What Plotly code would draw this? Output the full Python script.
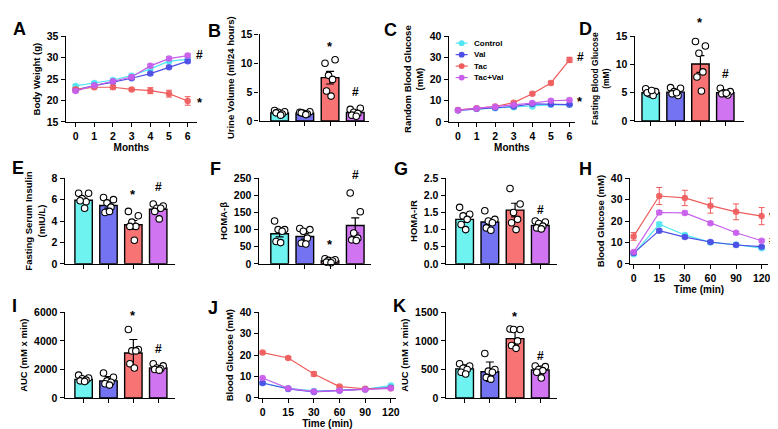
import plotly.graph_objects as go

W, H = 778, 429
FONT = "Liberation Sans, Arial, sans-serif"

GROUPS = ["Control", "Val", "Tac", "Tac+Val"]
BAR_COLORS = ["#6EF3F0", "#7474F2", "#F87474", "#D074F2"]
LINE_COLORS = ["#52E6F0", "#4E4EE6", "#EE5C5C", "#C85EEB"]

MONTHS = [0, 1, 2, 3, 4, 5, 6]
TIME_LABELS = ["0", "15", "30", "60", "90", "120"]

# A - body weight (g)
bw_mean = {
    "Control": [23.4, 24.1, 24.8, 25.8, 27.4, 29.2, 29.6],
    "Val": [22.5, 23.5, 24.3, 25.2, 26.3, 27.8, 29.2],
    "Tac": [22.6, 23.1, 23.1, 22.6, 22.3, 21.6, 19.9],
    "Tac+Val": [22.2, 23.5, 24.5, 25.5, 28.1, 29.8, 30.5],
}
bw_err = {
    "Control": [0.3, 0.3, 0.3, 0.3, 0.3, 0.4, 0.4],
    "Val": [0.3, 0.3, 0.3, 0.3, 0.3, 0.3, 0.4],
    "Tac": [0.4, 0.4, 0.4, 0.3, 0.7, 0.8, 1.0],
    "Tac+Val": [0.3, 0.3, 0.3, 0.3, 0.4, 0.4, 0.4],
}

# B - urine volume
urine_mean = [1.4, 1.35, 7.5, 1.45]
urine_err = [0.12, 0.1, 1.1, 0.22]
urine_pts = [
    [1.8, 1.6, 1.5, 1.2, 1.4, 1.0],
    [1.5, 1.6, 1.3, 1.2, 1.4, 1.1],
    [10.0, 10.6, 7.9, 7.2, 5.2, 4.3],
    [2.0, 2.2, 1.5, 1.3, 1.0, 0.8],
]

# C - random blood glucose
rbg_mean = {
    "Control": [5.5, 6.0, 6.4, 6.8, 7.2, 8.0, 8.0],
    "Val": [5.4, 6.1, 6.6, 7.2, 8.4, 8.2, 8.1],
    "Tac": [5.6, 6.4, 7.2, 9.0, 13.2, 18.2, 29.0],
    "Tac+Val": [5.5, 6.3, 7.0, 8.0, 8.8, 9.9, 10.2],
}
rbg_err = {
    "Control": [0.3, 0.3, 0.3, 0.3, 0.3, 0.3, 0.3],
    "Val": [0.3, 0.3, 0.3, 0.3, 0.4, 0.3, 0.3],
    "Tac": [0.3, 0.3, 0.4, 0.5, 0.6, 0.8, 1.2],
    "Tac+Val": [0.3, 0.3, 0.3, 0.3, 0.4, 0.4, 0.4],
}

# D - fasting blood glucose
fbg_mean = [5.0, 5.1, 10.1, 5.0]
fbg_err = [0.2, 0.2, 1.5, 0.2]
fbg_pts = [
    [5.7, 5.2, 4.8, 4.5, 5.0, 5.4],
    [5.9, 5.8, 5.2, 4.5, 4.8, 5.0],
    [14.1, 13.3, 12.0, 8.7, 7.8, 5.3],
    [5.8, 5.2, 5.0, 4.6, 4.8, 4.9],
]

# E - fasting serum insulin
ins_mean = [5.95, 5.45, 3.65, 5.1]
ins_err = [0.2, 0.25, 0.4, 0.2]
ins_pts = [
    [6.6, 6.6, 6.1, 5.8, 5.9, 5.2],
    [6.2, 6.0, 5.7, 5.3, 4.8, 4.9],
    [4.9, 4.5, 3.9, 3.5, 3.5, 2.2],
    [5.6, 5.4, 5.2, 5.2, 4.9, 4.2],
]

# F - HOMA-beta
hb_mean = [88, 80, 8, 112]
hb_err = [9, 8, 2, 22]
hb_pts = [
    [125, 100, 100, 95, 65, 62],
    [103, 100, 95, 75, 60, 58],
    [15, 12, 10, 8, 5, 3],
    [207, 152, 90, 75, 70, 68],
]

# G - HOMA-IR
hir_mean = [1.3, 1.22, 1.57, 1.12]
hir_err = [0.09, 0.08, 0.2, 0.04]
hir_pts = [
    [1.65, 1.45, 1.4, 1.3, 1.15, 1.0],
    [1.55, 1.3, 1.25, 1.2, 1.05, 0.98],
    [2.2, 1.75, 1.5, 1.3, 1.2, 1.0],
    [1.25, 1.22, 1.18, 1.1, 1.05, 1.02],
]

# H - OGTT
ogtt_mean = {
    "Control": [4.5, 18.5, 13.5, 10.0, 9.0, 7.3],
    "Val": [5.0, 15.5, 12.5, 10.2, 8.8, 8.0],
    "Tac": [12.8, 31.7, 30.8, 27.2, 24.3, 22.3],
    "Tac+Val": [5.5, 24.0, 23.8, 19.0, 14.5, 10.8],
}
ogtt_err = {
    "Control": [0.6, 0.8, 0.7, 0.6, 0.5, 0.5],
    "Val": [0.6, 0.7, 0.7, 0.6, 0.5, 0.5],
    "Tac": [1.8, 4.0, 3.6, 3.5, 3.7, 4.0],
    "Tac+Val": [0.6, 0.8, 0.8, 0.7, 0.6, 0.6],
}

# I - OGTT AUC
oauc_mean = [1300, 1200, 3150, 2100]
oauc_err = [180, 300, 950, 170]
oauc_pts = [
    [1600, 1400, 1350, 1250, 1200, 1150],
    [1750, 1450, 1200, 1100, 1000, 900],
    [4800, 3400, 3300, 3300, 2400, 2100],
    [2400, 2250, 2100, 2050, 2000, 1950],
]

# J - ITT
itt_mean = {
    "Control": [7.0, 4.5, 3.3, 3.5, 4.2, 5.8],
    "Val": [7.0, 4.2, 2.8, 3.5, 4.0, 4.8],
    "Tac": [21.2, 18.7, 11.2, 5.3, 4.3, 4.5],
    "Tac+Val": [9.3, 4.5, 3.0, 3.5, 4.0, 4.5],
}
itt_err = {
    "Control": [0.5, 0.4, 0.4, 0.4, 0.4, 0.5],
    "Val": [0.5, 0.4, 0.4, 0.4, 0.4, 0.4],
    "Tac": [0.6, 0.6, 1.0, 0.5, 0.4, 0.4],
    "Tac+Val": [0.5, 0.4, 0.4, 0.4, 0.4, 0.4],
}

# K - ITT AUC
iauc_mean = [510, 460, 1040, 490]
iauc_err = [70, 170, 160, 70]
iauc_pts = [
    [600, 560, 520, 500, 450, 420],
    [780, 500, 470, 450, 360, 330],
    [1210, 1200, 1200, 1000, 920, 870],
    [560, 550, 500, 480, 450, 350],
]

# horizontal scatter of the dots over each bar
JITTER = [-0.2, 0.2, -0.06, 0.1, -0.14, 0.04]

fig = go.Figure()


def suffix(n):
    return "" if n == 1 else str(n)


def axes(n, xpx, ypx, xrange, xtickvals, yrange, ytickvals, ytitle, xticktext=None, xtitle=None,
         ytickformat=None, title_size=9.5):
    s = suffix(n)
    tf = dict(family=FONT, size=10.5, color="black", weight="bold")
    common = dict(showline=True, linecolor="black", linewidth=1.4, ticks="outside", ticklen=4,
                  tickwidth=1.4, tickcolor="black", showgrid=False, zeroline=False, tickfont=tf)
    fig.update_layout(**{
        f"xaxis{s}": dict(
            domain=[xpx[0] / W, xpx[1] / W], range=xrange, anchor=f"y{s}", tickvals=xtickvals,
            ticktext=xticktext, showticklabels=xticktext is not None,
            title=dict(text=xtitle, font=dict(family=FONT, size=10, color="black", weight="bold"), standoff=1),
            **common),
        f"yaxis{s}": dict(
            domain=[1 - ypx[1] / H, 1 - ypx[0] / H], range=yrange, anchor=f"x{s}", tickvals=ytickvals,
            tickformat=ytickformat,
            title=dict(text=ytitle, font=dict(family=FONT, size=title_size, color="black", weight="bold"),
                       standoff=4),
            **common),
    })
    return f"x{s}", f"y{s}"


def mark(xa, ya, x, y, text, xshift=0, yshift=0, xanchor="center"):
    fig.add_annotation(x=x, y=y, xref=xa, yref=ya, text=text, showarrow=False, xshift=xshift, yshift=yshift,
                       xanchor=xanchor,
                       font=dict(family=FONT, size=13 if text == "*" else 12, color="black", weight="bold"))


def bar_panel(n, xpx, ypx, xrange, yrange, ytickvals, ytitle, means, errs, points, marks,
              ytickformat=None, title_size=9.5):
    idx = list(range(len(GROUPS)))
    xa, ya = axes(n, xpx, ypx, xrange, idx, yrange, ytickvals, ytitle, ytickformat=ytickformat,
                  title_size=title_size)
    fig.add_trace(go.Bar(
        x=idx, y=means, width=0.7, xaxis=xa, yaxis=ya, showlegend=False,
        marker=dict(color=BAR_COLORS, line=dict(color="black", width=1.4)),
        error_y=dict(type="data", array=errs, color="black", thickness=1.2, width=4)))
    for i, vals in enumerate(points):
        fig.add_trace(go.Scatter(
            x=[i + j for j in JITTER[:len(vals)]], y=vals, mode="markers", xaxis=xa, yaxis=ya,
            showlegend=False, cliponaxis=False,
            marker=dict(color="white", size=6.5, line=dict(color="black", width=1.1))))
    for m in marks:
        mark(xa, ya, *m)


def line_panel(n, xpx, ypx, x, xrange, xticktext, yrange, ytickvals, ytitle, xtitle, means, errs, marks):
    xa, ya = axes(n, xpx, ypx, xrange, x, yrange, ytickvals, ytitle, xticktext=xticktext, xtitle=xtitle)
    for g, c in zip(GROUPS, LINE_COLORS):
        fig.add_trace(go.Scatter(
            x=x, y=means[g], mode="lines+markers", name=g, xaxis=xa, yaxis=ya, showlegend=False,
            cliponaxis=False, line=dict(color=c, width=1.2),
            marker=dict(color=c, size=6.5, opacity=0.9),
            error_y=dict(type="data", array=errs[g], color=c, thickness=1, width=3)))
    for m in marks:
        mark(xa, ya, *m)


time_idx = list(range(len(TIME_LABELS)))

line_panel(1, (58, 190), (23, 111), MONTHS, [-0.53, 6.5], [str(m) for m in MONTHS], [15, 35],
           [15, 20, 25, 30, 35], "Body Weight (g)", "Months", bw_mean, bw_err,
           [(6, 30.6, "#", 12), (6, 19.6, "*", 12)])
bar_panel(2, (253, 363), (21, 110), [-0.79, 3.55], [0, 15], [0, 5, 10, 15],
          "Urine Volume (ml/24 hours)", urine_mean, urine_err, urine_pts,
          [(2, 12.9, "*"), (3, 5.0, "#")])
line_panel(3, (443, 570), (23, 111), MONTHS, [-0.5, 6.3], [str(m) for m in MONTHS], [0, 40],
           [0, 10, 20, 30, 40], "Random Blood Glucose<br>(mM)", "Months", rbg_mean, rbg_err,
           [(6, 30.2, "#", 11), (6, 9.6, "*", 11)])
bar_panel(4, (630, 740), (23, 110), [-0.64, 3.76], [0, 15], [0, 5, 10, 15],
          "Fasting Blood Glucose<br>(mM)", fbg_mean, fbg_err, fbg_pts,
          [(2, 14.9, "*", 0, 14), (3, 8.3, "#")], title_size=8.5)

bar_panel(5, (57, 168), (169, 257), [-0.76, 3.68], [0, 8], [0, 2, 4, 6, 8],
          "Fasting Serum Insulin<br>(mIU/L)", ins_mean, ins_err, ins_pts,
          [(2, 6.5, "*"), (3, 7.2, "#")])
bar_panel(6, (252, 365), (169, 257), [-0.83, 3.63], [0, 250], [0, 50, 100, 150, 200, 250],
          "HOMA-β", hb_mean, hb_err, hb_pts,
          [(2, 55, "*"), (3, 249, "#", 0, 4)])
bar_panel(7, (440, 552), (169, 257), [-0.75, 3.67], [0, 2.5], [0, 0.5, 1.0, 1.5, 2.0, 2.5],
          "HOMA-IR", hir_mean, hir_err, hir_pts,
          [(3, 1.57, "#")], ytickformat=".1f")
line_panel(8, (625, 764), (169, 257), time_idx, [-0.15, 5.25], TIME_LABELS, [0, 40],
           [0, 10, 20, 30, 40], "Blood Glucose (mM)", "Time (min)", ogtt_mean, ogtt_err,
           [(5, 22.0, "*", 5, 0, "left"), (5, 11.0, "#", 5, 0, "left")])

bar_panel(9, (57, 168), (307, 395), [-0.76, 3.68], [0, 6000], [0, 2000, 4000, 6000],
          "AUC (mM x min)", oauc_mean, oauc_err, oauc_pts,
          [(2, 5800, "*"), (3, 3450, "#")])
line_panel(10, (252, 390), (307, 395), time_idx, [-0.15, 5.2], TIME_LABELS, [0, 40],
           [0, 10, 20, 30, 40], "Blood Glucose (mM)", "Time (min)", itt_mean, itt_err, [])
bar_panel(11, (440, 552), (307, 395), [-0.75, 3.67], [0, 1500], [0, 500, 1000, 1500],
          "AUC (mM x min)", iauc_mean, iauc_err, iauc_pts,
          [(2, 1430, "*"), (3, 740, "#")])

# legend drawn inside panel C
for i, (g, c) in enumerate(zip(GROUPS, LINE_COLORS)):
    yy = 1 - (30 + 11.8 * i) / H
    fig.add_shape(type="line", xref="paper", yref="paper", x0=450 / W, x1=462 / W, y0=yy, y1=yy,
                  line=dict(color=c, width=1.2))
    fig.add_shape(type="circle", xref="paper", yref="paper", x0=453 / W, x1=459 / W,
                  y0=yy - 3 / H, y1=yy + 3 / H, fillcolor=c, line=dict(color=c, width=0))
    fig.add_annotation(x=466 / W, y=yy, xref="paper", yref="paper", text=g, showarrow=False,
                       xanchor="left", yanchor="middle",
                       font=dict(family=FONT, size=8, color="black", weight="bold"))

# panel letters
letters = [("A", 3, 15), ("B", 199, 17), ("C", 376, 16), ("D", 572, 15),
           ("E", 2, 158), ("F", 201, 159), ("G", 386, 159), ("H", 572, 159),
           ("I", 2, 300), ("J", 199, 302), ("K", 385, 300)]
for t, lx, ly in letters:
    fig.add_annotation(x=lx / W, y=1 - ly / H, xref="paper", yref="paper", text=t, showarrow=False,
                       xanchor="left", yanchor="middle",
                       font=dict(family=FONT, size=18, color="black", weight="bold"))

fig.update_layout(
    width=W, height=H, margin=dict(l=0, r=0, t=0, b=0),
    paper_bgcolor="white", plot_bgcolor="white", showlegend=False,
    font=dict(family=FONT, color="black"),
)

fig.write_html("out.html")
